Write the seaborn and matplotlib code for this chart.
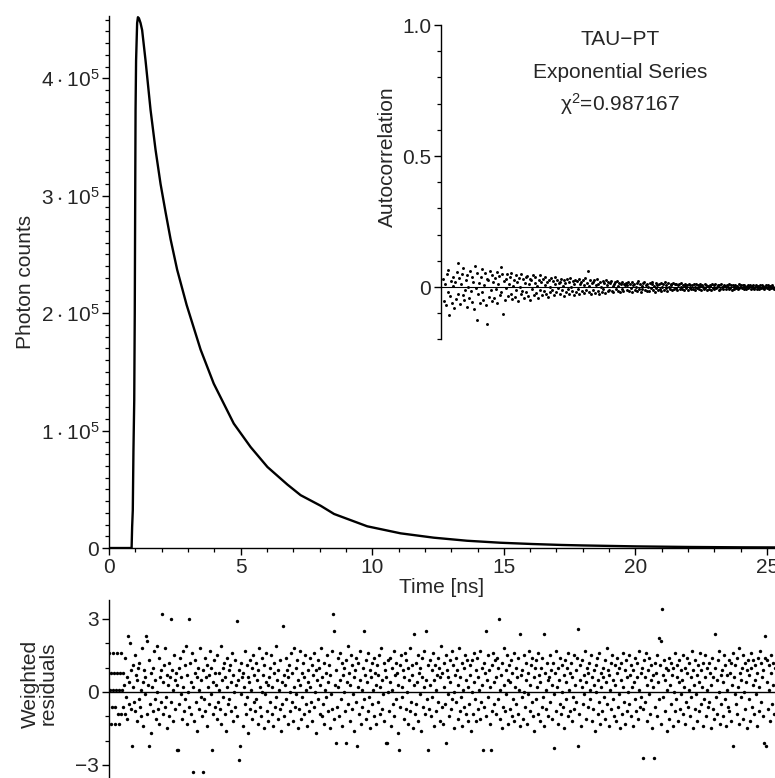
#!/usr/bin/env python3
"""TCSPC decay fit with weighted residuals and autocorrelation inset."""

import matplotlib
matplotlib.use("Agg")
import matplotlib.pyplot as plt
import numpy as np
import seaborn as sns
from matplotlib.ticker import MultipleLocator

# decay curve (time in ns, counts in units of 1e5)
decay_t = [0.0, 0.5, 0.86, 0.88, 0.905, 0.93, 0.96, 0.98, 1.0, 1.01, 1.03,
           1.07, 1.10, 1.14, 1.2, 1.26, 1.39, 1.58, 1.77, 1.96, 2.15, 2.34,
           2.59, 2.95, 3.48, 3.98, 4.74, 5.38, 6.02, 6.78, 7.28, 8.04, 8.55,
           9.81, 11.08, 12.34, 13.6, 14.87, 16.1, 17.2, 18.0, 19.0, 20.0,
           22.0, 24.0, 25.3]
decay_counts = [0, 0, 0, 0.18, 0.32, 0.83, 1.26, 2.0, 3.19, 3.73, 4.15,
                4.47, 4.52, 4.51, 4.47, 4.41, 4.15, 3.73, 3.39, 3.10, 2.86, 2.63,
                2.37, 2.07, 1.69, 1.40, 1.06, 0.86, 0.69, 0.54, 0.45, 0.36, 0.29,
                0.185, 0.125, 0.088, 0.062, 0.045, 0.034, 0.026, 0.022, 0.018,
                0.014, 0.009, 0.006, 0.005]

# weighted residuals per channel, in tenths
resid_tenths = [
    16, 1, -13, 8, -6, 16, 1, 8, -13, -6, 1, 16, 8, -9, -13, 1, 8, 16, -9, 1,
    -6, 8, 3, -9, 14, -2, 6, -11, 23, 4, -5, 20, 9, -7, -22, 11, 2, -4, 15, -8,
    7, -12, 5, 10, -3, 12, -6, 1, -10, 18, 4, -14, 9, -1, 6, 23, 21, -9, 3, -22,
    13, -5, 8, -17, 2, 10, -8, 17, -3, 5, -11, 19, 0, -7, 14, -13, 6, 9, -4, 32,
    -9, 4, 11, -6, 18, -2, 7, -15, 3, 12, -10, 6, 30, -4, 9, -12, 1, 15, -7, 5,
    8, -24, 3, -24, 10, -5, 14, -1, 6, -11, 17, 2, -8, 11, -3, 19, -13, 7, 0, 30,
    -6, 12, -9, 4, 16, -33, 2, -12, 8, 13, -4, 6, -16, 10, 1, -7, 18, -2, 5, -10,
    -33, 9, -3, 14, -8, 6, 11, -14, 2, 7, -5, 17, -1, 10, -24, 4, -9, 13, -6, 8,
    3, -11, 15, -4, 8, 1, -7, 19, -13, 5, 10, -2, 12, -9, 6, -16, 2, 14, -5, 9,
    -3, 11, -8, 4, 16, -12, 7, 0, -6, 13, 3, -10, 29, 5, -28, 9, -22, 12, -1, 6,
    -14, 8, 2, -5, 17, -9, 11, -2, 6, -17, 4, 13, -7, 1, 10, -11, 15, -4, 7, -8,
    12, -3, 5, -13, 9, 18, -6, 2, -10, 14, 0, 7, -15, 11, -1, 4, 16, -8, 3, -12,
    6, 10, -4, 15, -9, 2, -14, 8, 12, -6, 19, -2, 5, -11, 9, 1, -7, 13, -16, 4,
    -5, 27, 7, -10, 3, 14, -3, 9, -13, 6, 11, -8, 0, 16, -4, 8, -12, 2, 18, -6,
    10, -1, 13, -15, 5, -7, 17, 3, -11, 8, -2, 12, -9, 6, 15, -5, 1, -14, 9, 4,
    -8, 14, 2, -4, 11, -12, 7, 16, -6, 0, 9, -17, 5, 13, -3, 10, -9, 3, 18, -10,
    6, -5, 12, -13, 1, 8, -2, 15, -8, 4, 11, -15, 7, -1, 17, -7, 32, 25, -11, 3,
    -21, 9, -6, 14, 2, -10, 16, 5, -3, 12, -14, 7, 0, 10, -8, 13, -21, 4, 19, -5,
    8, -12, 3, 15, -7, 11, -1, 6, -16, 9, 14, -4, -22, 2, 12, -9, 5, 17, -13, 1,
    -6, 10, 25, -3, 7, -11, 13, 4, -8, 16, -2, 9, -15, 6, 12, -5, 1, 14, -10, 8,
    3, -13, 11, 7, -4, 15, -9, 2, 18, -7, 5, -1, 12, -12, 9, -21, 6, -21, 13, 0,
    -8, 14, 4, -14, 10, 1, -5, 17, -10, 7, 12, -3, 8, -17, 3, -24, 11, -6, 15, 2,
    -2, 9, -11, 6, 16, -7, 13, 0, -13, 10, 5, -8, 18, -4, 7, 11, -15, 3, 24, -9,
    12, -5, 4, 15, -12, 8, -1, 10, -16, 6, 14, -6, 2, 17, -9, 5, 25, -3, -24, 11,
    -7, 3, 13, -10, 9, -2, 16, 5, -14, 11, 1, -8, 7, 14, -4, 10, -12, 6, 19, -6,
    8, -13, 2, 12, -5, 15, -21, 9, -1, 6, -10, 13, 4, -7, 17, -3, 11, -15, 0, 7,
    14, -4, 9, -11, 3, 18, -8, 6, -2, 12, -14, 1, 10, -6, 15, -9, 5, 13, -12, 2,
    -5, 11, 7, -16, 13, 0, -9, 16, 4, -3, 9, -12, 14, -7, 6, 1, -11, 17, -4, 10,
    3, -24, 12, -6, 8, 25, -10, 5, 15, -2, 9, -13, 2, -24, 11, -8, 16, 4, -5, 13,
    -9, 6, 14, -3, 10, 30, -11, 1, 7, -15, 12, -6, 18, 3, -8, 9, -1, 15, -13, 5,
    11, -7, 4, 13, -10, 8, -3, 16, -12, 2, 10, -5, 6, 14, -9, 1, -14, 24, 7, -2,
    9, -11, 15, 0, -6, 12, 5, -13, 8, -1, 17, -8, 3, 11, -4, 14, -10, 6, -16, 10,
    -3, 13, 2, -9, 16, 7, -12, 4, 10, -6, 14, -2, 24, -14, 8, 1, -7, 12, 5, -10,
    6, 15, -4, 9, -11, 3, 12, -1, -23, 8, -8, 17, 2, -13, 10, 5, -5, 14, -9, 0,
    11, -6, 7, -15, 13, 4, -3, 10, -10, 16, 1, -8, 8, 12, -12, 6, -2, 15, -7, 3,
    -4, 9, 14, -22, 26, -9, 5, 11, -14, 2, 13, -5, 7, -1, 17, -11, 4, 10, -6, 8,
    12, -3, 1, 15, -12, 6, -7, 9, 3, -16, 11, 0, 14, -9, 5, -4, 16, -13, 8, 2,
    -8, 10, 6, -2, 13, -11, 4, 18, -5, 9, -14, 7, 1, 12, -7, 15, -3, 5, -10, 11,
    3, -12, 14, 8, -6, 10, -1, -15, 12, 5, -9, 16, 2, -4, 9, -13, 13, 6, -8, 0,
    15, -5, 7, -10, 11, 2, -14, 9, 4, -3, 14, -8, 6, 12, -11, 1, 17, -6, 8, -2,
    10, -7, -27, 13, -4, 6, 16, -12, 3, 9, -1, 14, -9, 5, 11, -15, 7, 2, -27, 12,
    -6, 8, 15, -10, 4, -3, 22, 11, 21, -13, 34, 7, -2, 13, -8, 5, 10, -16, 1, 9,
    -11, 14, 3, -5, 12, 7, -14, 10, 0, -8, 16, -3, 6, 11, -12, 4, 13, -7, 9, -1,
    5, -9, 15, 2, -13, 10, -4, 8, 14, -6, 1, 12, -10, 6, -2, 17, -15, 9, 3, -7,
    13, -1, 7, -12, 11, 4, -8, 16, -5, 9, 2, -14, 12, -3, 6, 15, -10, 1, 10, -6,
    -4, 12, 8, -15, 3, 14, -7, 6, -11, 24, 10, -2, 5, -9, 13, 0, 17, -13, 7, -5,
    9, -10, 4, 15, -3, 11, -14, 7, 1, -6, 13, -8, 8, 12, -12, 3, 16, -22, 6, -1,
    11, -5, 14, -9, 2, 18, -13, 8, 5, -2, 10, -11, 15, 0, -7, 12, 4, -15, 9, 13,
    -3, 7, -12, 16, 10, -6, 3, 13, -9, 5, 11, -1, -14, 8, 14, -8, 2, 17, -4, 12,
    6, -10, 9, -21, 23, 14, -22, 4, 13, -7, 11, 1, -12, 15, 8, -5, 12, 3, -9, 10,
]

# autocorrelation of residuals, in thousandths
autocorr_milli = [
    30, -55, 12, -70, 48, -20, 65, -106, -35, 22, -60, 5, 40, -80, 18, -45, 58, 92, -25, 35,
    -65, 10, 50, -30, 72, -50, -10, 28, -75, 45, 0, -40, 62, -15, 38, -58, 20, -85, 82, -5,
    -126, 55, -28, 15, -62, 40, 68, -20, -48, 8, 52, -70, 30, -142, 25, -38, 60, -12, 45, -55,
    18, -42, 35, -8, 58, -60, 12, 42, -30, 76, -18, 50, -104, 22, -50, 32, -5, 48, -35, 10,
    38, -25, 55, -45, 5, 28, -38, 45, -12, 20, -55, 35, 0, -28, 50, -15, 30, -42, 15, 40,
    -20, 42, -35, 10, 32, -48, 25, -8, 46, -30, 15, 38, -22, 5, -40, 28, 45, -12, 20, -32,
    30, -15, 8, 40, -28, 18, -38, 25, 2, -20, 35, -10, 22, -30, 12, 38, -18, 28, -5, 15,
    -25, 20, 32, -12, 5, -35, 26, 14, -20, 30, -8, 18, -28, 35, 0, -15, 24, -32, 10, 28,
    -18, 22, -6, 30, -25, 12, 20, -14, 28, -22, 8, 34, -10, 16, 60, -20, 4, 25, -28, 14,
    18, -12, 26, -22, 6, 30, -16, 10, -26, 20, 2, -18, 24, -8, 14, -24, 28, 8, -14, 20,
    -10, 16, 22, -15, 5, -20, 12, 18, -8, 22, -14, 4, 15, -18, 10, 20, -6, -16, 12, 8,
    14, -12, 6, 20, -16, 10, -4, 18, -20, 8, 12, -10, 2, 16, -14, 22, -6, 10, -18, 4,
    -8, 14, 18, -12, 6, -16, 10, 2, -14, 16, -4, 12, 20, -10, 4, -18, 14, -2, 8, -12,
    12, -6, 16, -14, 2, 10, -10, 18, -4, 8, -16, 14, 0, -8, 12, 6, -12, 16, -6, 10,
    -4, 10, -10, 6, 12, -8, 2, 14, -6, 8, -12, 4, 10, -2, 6, -10, 12, -4, 8, -8,
    6, -6, 10, -10, 2, 12, -4, 8, -8, 4, 10, -12, 6, 0, -6, 10, -2, 8, -10, 4,
    -6, 8, 4, -10, 10, -2, 6, -8, 12, -4, 2, 8, -10, 6, -6, 10, 0, -8, 4, 8,
    4, -8, 6, 2, -6, 10, -4, 6, -10, 8, 0, -6, 8, -2, 4, -8, 10, -4, 2, 6,
    -4, 6, -8, 8, 2, -6, 4, 8, -4, 0, 6, -8, 4, -2, 8, -6, 2, 6, -8, 4,
    2, -6, 6, -4, 8, -2, 4, -6, 2, 6, -4, 0, 8, -6, 4, -2, 6, -4, 2, -6,
]

T_MAX = 25.3
COUNT_TICKS = [0, 1, 2, 3, 4]
COUNT_LABELS = ["0", r"$1\cdot10^{5}$", r"$2\cdot10^{5}$",
                r"$3\cdot10^{5}$", r"$4\cdot10^{5}$"]
INSET_TEXT = ["TAU\u2212PT", "Exponential Series", "\u03c7$^{2}$=0.987167"]


def main() -> None:
    sns.set_style("ticks")
    plt.rcParams["font.family"] = ["Liberation Sans", "DejaVu Sans"]
    plt.rcParams["mathtext.fontset"] = "custom"
    plt.rcParams["mathtext.rm"] = "Liberation Sans"
    plt.rcParams["mathtext.default"] = "regular"
    plt.rcParams["axes.linewidth"] = 1.0
    fs = 15

    fig = plt.figure(figsize=(7.75, 7.78), dpi=100)
    ax = fig.add_axes([0.1406, 0.2956, 0.8594, 0.6838])
    ax_res = fig.add_axes([0.1406, 0.0, 0.8594, 0.2288])
    ax_ac = fig.add_axes([0.5690, 0.5637, 0.4310, 0.4041])
    for a in (ax, ax_res, ax_ac):
        a.set_facecolor("none")
        for s in ("top", "right"):
            a.spines[s].set_visible(False)
        a.spines["left"].set_color("black")
        a.spines["bottom"].set_color("black")

    # main decay
    t = np.array(decay_t)
    counts = np.array(decay_counts) * 1e5
    sns.lineplot(x=t, y=counts, color="black", linewidth=1.7,
                 estimator=None, sort=False, ax=ax)
    ax.set_xlim(0, T_MAX)
    ax.set_ylim(0, 4.53e5)
    ax.xaxis.set_major_locator(MultipleLocator(5))
    ax.xaxis.set_minor_locator(MultipleLocator(1))
    ax.set_yticks([v * 1e5 for v in COUNT_TICKS])
    ax.set_yticklabels(COUNT_LABELS)
    ax.yaxis.set_minor_locator(MultipleLocator(1e4))
    ax.set_xlabel("Time [ns]", fontsize=fs, labelpad=1)
    ax.set_ylabel("Photon counts", fontsize=fs)
    ax.yaxis.set_label_coords(-0.111, 0.50)

    # residuals
    res = np.array(resid_tenths) / 10.0
    width = T_MAX / len(res)
    t_res = (np.arange(len(res)) + 0.5) * width
    ax_res.axhline(0, color="black", linewidth=1.0)
    sns.scatterplot(x=t_res, y=res, color="black", s=6, linewidth=0, ax=ax_res)
    ax_res.set_xlim(0, T_MAX)
    ax_res.set_ylim(-3.535, 3.78)
    ax_res.spines["bottom"].set_visible(False)
    ax_res.set_xticks([])
    ax_res.set_yticks([-3, 0, 3])
    ax_res.yaxis.set_minor_locator(MultipleLocator(1))
    ax_res.set_ylabel("Weighted\nresiduals", fontsize=fs, linespacing=0.95)
    ax_res.yaxis.set_label_coords(-0.077, 0.53)

    # autocorrelation inset
    ac = np.array(autocorr_milli) / 1000.0
    lags = np.arange(len(ac))
    ax_ac.axhline(0, color="black", linewidth=0.8)
    sns.scatterplot(x=lags, y=ac, color="black", s=4.5, linewidth=0, ax=ax_ac)
    ax_ac.set_xlim(-3, len(ac))
    ax_ac.set_ylim(-0.2, 1.0)
    ax_ac.spines["bottom"].set_visible(False)
    ax_ac.set_xticks([])
    ax_ac.set_yticks([0, 0.5, 1.0])
    ax_ac.set_yticklabels(["0", "0.5", "1.0"])
    ax_ac.yaxis.set_minor_locator(MultipleLocator(0.1))
    ax_ac.set_ylabel("Autocorrelation", fontsize=fs)
    ax_ac.yaxis.set_label_coords(-0.133, 0.58)
    for txt, yy in zip(INSET_TEXT, [0.954, 0.848, 0.748]):
        ax_ac.text(0.536, yy, txt, transform=ax_ac.transAxes,
                   ha="center", va="center", fontsize=fs)

    for a in (ax, ax_res, ax_ac):
        a.tick_params(axis="both", which="major", direction="out", length=5,
                      width=1, labelsize=fs, pad=2, color="black")
        a.tick_params(axis="both", which="minor", direction="out", length=2.8,
                      width=0.9, color="black")

    fig.savefig("out.png", dpi=100)
    plt.close(fig)


if __name__ == "__main__":
    main()
